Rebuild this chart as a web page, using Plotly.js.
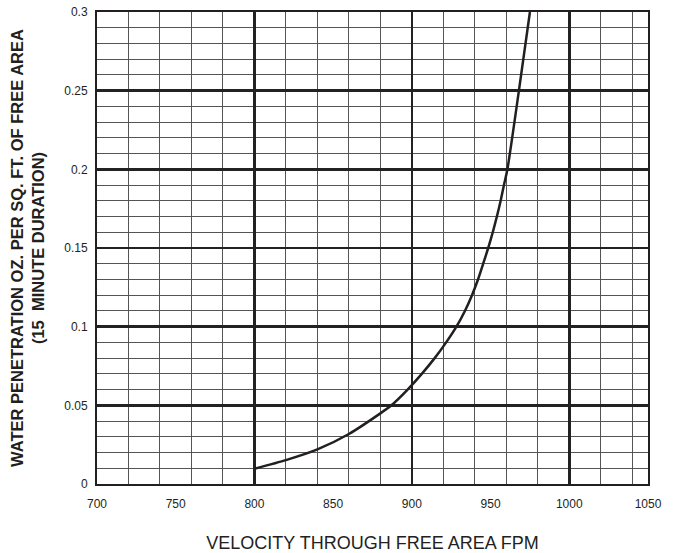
<!DOCTYPE html>
<html>
<head>
<meta charset="utf-8">
<script src="https://cdn.plot.ly/plotly-3.0.1.min.js"></script>
<style>html,body{margin:0;padding:0;background:#fff;}#chart{width:676px;height:553px;}</style>
</head>
<body>
<div id="chart"></div>
<script>
// Curve (velocity FPM -> oz per sq ft)
var velocity = [800, 820, 840, 860, 880, 887, 897.3, 906.3, 914.5, 921.8, 928.3, 933.7, 938.2, 942, 945.3, 948.5, 951.4, 954, 956.4, 958.5, 960.7, 968, 975];
var penetration = [0.0097, 0.0152, 0.022, 0.0318, 0.0449, 0.05, 0.06, 0.07, 0.08, 0.09, 0.1, 0.11, 0.12, 0.13, 0.14, 0.15, 0.16, 0.17, 0.18, 0.19, 0.2, 0.25, 0.3];

var xTickVals = [700, 750, 800, 850, 900, 950, 1000, 1050];
var xTickText = ['700', '750', '800', '850', '900', '950', '1000', '1050'];
var yTickVals = [0, 0.05, 0.1, 0.15, 0.2, 0.25, 0.3];
var yTickText = ['0', '0.05', '0.1', '0.15', '0.2', '0.25', '0.3'];

var ink = '#231f20';
var fam = 'Liberation Sans, Arial, sans-serif';
var font = {family: fam, size: 12, color: ink};

var traces = [
  {x: velocity, y: penetration, xaxis: 'x', yaxis: 'y', type: 'scatter', mode: 'lines',
   line: {color: ink, width: 2.5, shape: 'spline', smoothing: 0.6}, hoverinfo: 'skip', showlegend: false},
  {x: [700], y: [0], xaxis: 'x2', yaxis: 'y', type: 'scatter', mode: 'markers',
   marker: {opacity: 0}, hoverinfo: 'skip', showlegend: false}
];

var layout = {
  width: 676, height: 553,
  margin: {l: 97, r: 28, t: 12, b: 69},
  paper_bgcolor: '#fff', plot_bgcolor: '#fff',
  font: font,
  showlegend: false,
  xaxis: {
    range: [700, 1050], dtick: 100, tick0: 700,
    showgrid: true, gridcolor: '#222', gridwidth: 2.5,
    minor: {dtick: 20, tick0: 700, showgrid: true, gridcolor: '#555', gridwidth: 1},
    showticklabels: false, ticks: '',
    showline: true, linecolor: ink, linewidth: 2, mirror: true,
    zeroline: false, fixedrange: true
  },
  xaxis2: {
    overlaying: 'x', anchor: 'y', side: 'bottom',
    range: [700, 1050], tickmode: 'array', tickvals: xTickVals, ticktext: xTickText,
    showgrid: false, zeroline: false, ticks: '', ticklabelstandoff: 11,
    tickfont: font,
    title: {text: 'VELOCITY THROUGH FREE AREA FPM', font: {family: fam, size: 18, color: ink}, standoff: 26}
  },
  yaxis: {
    range: [0, 0.3], tickmode: 'array', tickvals: yTickVals, ticktext: yTickText,
    showgrid: true, gridcolor: '#222', gridwidth: 2.5,
    minor: {dtick: 0.01, tick0: 0, showgrid: true, gridcolor: '#555', gridwidth: 1},
    ticks: '', ticklabelstandoff: 5, tickfont: font,
    showline: true, linecolor: ink, linewidth: 2, mirror: true,
    zeroline: false, fixedrange: true,
    title: {text: '<b>WATER PENETRATION OZ. PER SQ. FT. OF FREE AREA<br>(15  MINUTE DURATION)</b>',
            font: {family: fam, size: 16.5, color: ink}, standoff: 15}
  }
};

Plotly.newPlot('chart', traces, layout, {displayModeBar: false, staticPlot: true});
</script>
</body>
</html>
